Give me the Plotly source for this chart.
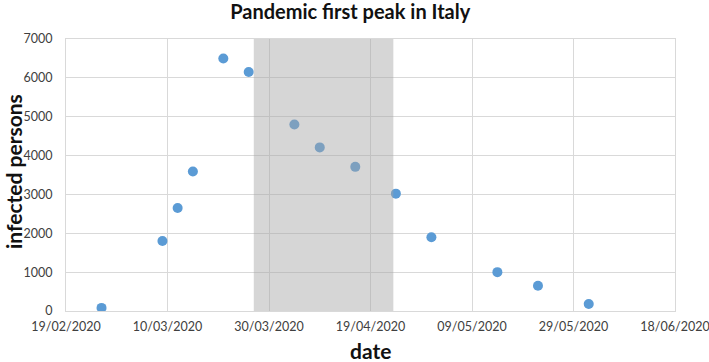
import plotly.graph_objects as go

dates = ["2020-02-26", "2020-03-09", "2020-03-12", "2020-03-15", "2020-03-21",
         "2020-03-26", "2020-04-04", "2020-04-09", "2020-04-16", "2020-04-24",
         "2020-05-01", "2020-05-14", "2020-05-22", "2020-06-01"]
infected = [80, 1800, 2650, 3590, 6500, 6150, 4800, 4210, 3710, 3020,
            1900, 1000, 650, 180]

x_tick_vals = ["2020-02-19", "2020-03-10", "2020-03-30", "2020-04-19",
               "2020-05-09", "2020-05-29", "2020-06-18"]
x_tick_text = ["19/02/2020", "10/03/2020", "30/03/2020", "19/04/2020",
               "09/05/2020", "29/05/2020", "18/06/2020"]
y_tick_vals = [0, 1000, 2000, 3000, 4000, 5000, 6000, 7000]

shade_start = "2020-03-27"
shade_end = "2020-04-23 12:00"

FONT = "Lato, 'Open Sans', sans-serif"
GRID = "#D9D9D9"
TITLE_COLOR = "#111111"

fig = go.Figure()
fig.add_trace(go.Scatter(
    x=dates, y=infected, mode="markers",
    marker=dict(color="#5B9BD5", size=10, line=dict(width=0)),
    showlegend=False,
))

fig.add_shape(type="rect", xref="x", yref="y",
              x0=shade_start, x1=shade_end, y0=0, y1=7000,
              fillcolor="rgba(166,166,166,0.46)", line=dict(width=0),
              layer="above")

fig.add_annotation(text="<b>infected persons</b>", xref="paper", yref="paper",
                   x=0, y=0.5, xanchor="center", yanchor="middle",
                   xshift=-53, yshift=3, textangle=-90, showarrow=False,
                   font=dict(family=FONT, size=21, color=TITLE_COLOR))
fig.add_annotation(text="<b>date</b>", xref="paper", yref="paper",
                   x=0.5, y=0, xanchor="center", yanchor="middle",
                   yshift=-39, showarrow=False,
                   font=dict(family=FONT, size=21, color=TITLE_COLOR))

fig.update_layout(
    width=709, height=362,
    margin=dict(l=66, r=34, t=39, b=51, autoexpand=False),
    paper_bgcolor="white", plot_bgcolor="white",
    font=dict(family=FONT, size=13, color="#404040"),
    title=dict(text="<b>Pandemic first peak in Italy</b>", x=0.494, xanchor="center",
               y=1 - 12 / 362, yanchor="middle",
               font=dict(family=FONT, size=20, color=TITLE_COLOR)),
    xaxis=dict(
        type="date", range=["2020-02-19", "2020-06-18"],
        tickmode="array", tickvals=x_tick_vals, ticktext=x_tick_text,
        showgrid=True, gridcolor=GRID, gridwidth=1,
        showline=True, linecolor=GRID, linewidth=1, mirror=True,
        ticks="", tickfont=dict(size=12.5, color="#404040"),
        ticklabeloverflow="allow", ticklabelstandoff=4,
        automargin=False, zeroline=False,
    ),
    yaxis=dict(
        range=[0, 7000], tickmode="array", tickvals=y_tick_vals,
        showgrid=True, gridcolor=GRID, gridwidth=1,
        showline=True, linecolor=GRID, linewidth=1, mirror=True,
        ticks="", tickfont=dict(size=12.5, color="#404040"),
        ticklabelstandoff=10,
        automargin=False, zeroline=False,
    ),
)

fig.write_html("out.html", config={"displayModeBar": False},
               post_script="document.body.style.margin='0';")
